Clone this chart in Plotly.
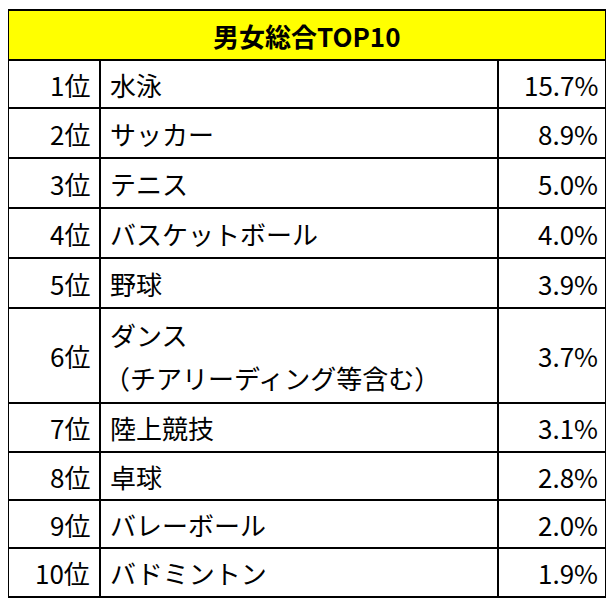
import plotly.graph_objects as go

title = "男女総合TOP10"
ranks = ["1位", "2位", "3位", "4位", "5位", "6位", "7位", "8位", "9位", "10位"]
sports = ["水泳", "サッカー", "テニス", "バスケットボール", "野球",
          "ダンス", "陸上競技", "卓球", "バレーボール", "バドミントン"]
sub_text = "（チアリーディング等含む）"
values = ["15.7%", "8.9%", "5.0%", "4.0%", "3.9%", "3.7%", "3.1%", "2.8%", "2.0%", "1.9%"]
row_lines = [10, 60, 108, 158, 208, 258, 308, 403, 452, 500, 548, 597]
col_lines = [8, 100, 498, 606]

font = dict(family="Noto Sans CJK JP", size=26, color="black")
fig = go.Figure()
shapes = []
annotations = []

shapes.append(dict(type="rect", x0=col_lines[0], x1=col_lines[-1], y0=row_lines[0], y1=row_lines[1],
                   fillcolor="#FFFF00", line=dict(color="black", width=2)))
annotations.append(dict(x=(col_lines[0] + col_lines[-1]) / 2, y=(row_lines[0] + row_lines[1]) / 2,
                        text="<b>" + title + "</b>", showarrow=False, font=font))

for i in range(len(ranks)):
    y0, y1 = row_lines[i + 1], row_lines[i + 2]
    yc = (y0 + y1) / 2
    for c in range(3):
        shapes.append(dict(type="rect", x0=col_lines[c], x1=col_lines[c + 1], y0=y0, y1=y1,
                           line=dict(color="black", width=2)))
    annotations.append(dict(x=col_lines[1] - 8, y=yc, text=ranks[i], xanchor="right",
                            showarrow=False, font=font))
    if i == 5:
        annotations.append(dict(x=col_lines[1] + 8, y=y0 + 26, text=sports[i], xanchor="left",
                                showarrow=False, font=font))
        annotations.append(dict(x=col_lines[1] + 2, y=y1 - 26, text=sub_text, xanchor="left",
                                showarrow=False, font=font))
    else:
        annotations.append(dict(x=col_lines[1] + 8, y=yc, text=sports[i], xanchor="left",
                                showarrow=False, font=font))
    annotations.append(dict(x=col_lines[3] - 6, y=yc, text=values[i], xanchor="right",
                            showarrow=False, font=font))

fig.update_layout(
    width=598, height=593, margin=dict(l=0, r=0, t=0, b=0),
    plot_bgcolor="white", paper_bgcolor="white",
    xaxis=dict(range=[8, 606], visible=False, fixedrange=True),
    yaxis=dict(range=[601, 8], visible=False, fixedrange=True),
    shapes=shapes, annotations=annotations, showlegend=False,
)
fig.write_html("out.html")
